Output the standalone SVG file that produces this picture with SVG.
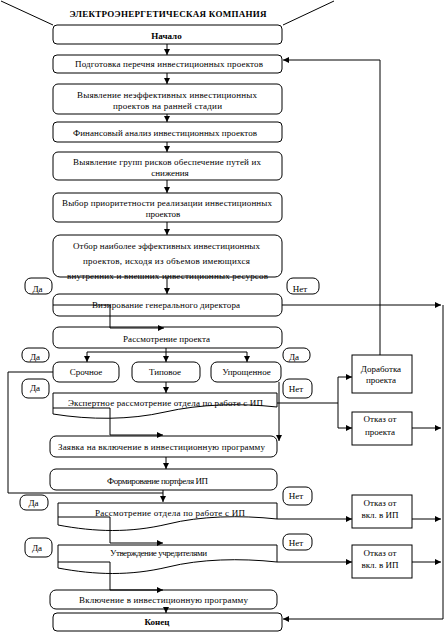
<svg xmlns="http://www.w3.org/2000/svg" width="446" height="639" viewBox="0 0 446 639">
<defs>
<marker id="ar" markerUnits="userSpaceOnUse" markerWidth="7" markerHeight="6" refX="6" refY="3" orient="auto">
<path d="M0,0 L6,3 L0,6 Z" fill="#000"/>
</marker>
<style>
.b{fill:#fff;stroke:#000;stroke-width:1}
.t{font-family:"Liberation Serif","Times New Roman",serif;font-size:9px;text-anchor:middle;fill:#000}
.bd{font-weight:bold}
.c{fill:none;stroke:#000;stroke-width:1}
.a{fill:none;stroke:#000;stroke-width:1;marker-end:url(#ar)}
</style>
</defs>
<rect width="446" height="639" fill="#fff"/>

<g id="title">
<path class="c" d="M1,1 L53,25 M334,1 L283,25"/>
<text class="t bd" x="168" y="17" textLength="197">ЭЛЕКТРОЭНЕРГЕТИЧЕСКАЯ КОМПАНИЯ</text>
</g>

<g id="n-start"><rect class="b" x="53" y="25" width="229" height="19" rx="4"/><text class="t bd" x="166.5" y="39">Начало</text></g>
<g id="n-prep"><rect class="b" x="53" y="55" width="229" height="18" rx="4"/><text class="t" x="169" y="67" textLength="188">Подготовка перечня инвестиционных проектов</text></g>
<g id="n-ineff"><rect class="b" x="53" y="84" width="229" height="30" rx="5"/><text class="t" x="167" y="98" textLength="180">Выявление неэффективных инвестиционных</text><text class="t" x="167.5" y="109" textLength="109">проектов на ранней стадии</text></g>
<g id="n-fin"><rect class="b" x="53" y="122" width="229" height="20" rx="4"/><text class="t" x="165" y="135.5" textLength="184">Финансовый анализ инвестиционных проектов</text></g>
<g id="n-risk"><rect class="b" x="53" y="152" width="229" height="28" rx="5"/><text class="t" x="167" y="165" textLength="188">Выявление групп рисков обеспечение путей их</text><text class="t" x="170" y="176">снижения</text></g>
<g id="n-prio"><rect class="b" x="53" y="193" width="229" height="29" rx="5"/><text class="t" x="167" y="206" textLength="210">Выбор приоритетности реализации инвестиционных</text><text class="t" x="163" y="216.5">проектов</text></g>
<g id="n-select"><rect class="b" x="53" y="235" width="229" height="42" rx="7"/><text class="t" x="166.5" y="249" textLength="187">Отбор наиболее эффективных инвестиционных</text><text class="t" x="166.5" y="264" textLength="167">проектов, исходя из объемов имеющихся</text><text class="t" x="167.5" y="279" textLength="201">внутренних и внешних инвестиционных ресурсов</text></g>
<g id="n-visa"><rect class="b" x="53" y="294" width="229" height="22" rx="6"/><text class="t" x="166" y="308" textLength="148">Визирование генерального директора</text></g>
<g id="n-review"><rect class="b" x="53" y="327" width="229" height="21" rx="6"/><text class="t" x="166.5" y="342" textLength="87">Рассмотрение проекта</text></g>
<g id="n-urgent"><rect class="b" x="53" y="362" width="66" height="20" rx="6"/><text class="t" x="86" y="375">Срочное</text></g>
<g id="n-typical"><rect class="b" x="132" y="362" width="68" height="20" rx="6"/><text class="t" x="165" y="375">Типовое</text></g>
<g id="n-simple"><rect class="b" x="211" y="362" width="70" height="20" rx="6"/><text class="t" x="246.5" y="375">Упрощенное</text></g>
<g id="n-expert"><path class="b" d="M53,393 H277 V407 C240,403 200,404 165,412 C130,420 90,420 53,414 Z"/><text class="t" x="165.5" y="406" textLength="195">Экспертное рассмотрение отдела по работе с ИП</text></g>
<g id="n-apply"><rect class="b" x="50" y="436" width="227" height="21" rx="6"/><text class="t" x="161.5" y="450" textLength="207">Заявка на включение в инвестиционную программу</text></g>
<g id="n-portf"><rect class="b" x="50" y="469" width="227" height="21" rx="6"/><text class="t" x="157.5" y="484" textLength="101">Формирование портфеля ИП</text></g>
<g id="n-dept"><path class="b" d="M58,503 H277 V519 C240,515 200,516 168,524 C130,533 95,532 58,525 Z"/><text class="t" x="170" y="516" textLength="150">Рассмотрение отдела по работе с ИП</text></g>
<g id="n-found"><path class="b" d="M58,545 H277 V562 C240,558 200,559 168,567 C130,576 95,575 58,568 Z"/><text class="t" x="158.5" y="556" textLength="97">Утверждение учредителями</text></g>
<g id="n-incl"><rect class="b" x="50" y="590" width="227" height="19" rx="6"/><text class="t" x="163.5" y="603" textLength="169">Включение в инвестиционную программу</text></g>
<g id="n-end"><rect class="b" x="53" y="613" width="229" height="18" rx="4"/><text class="t bd" x="157" y="625">Конец</text></g>

<g id="n-rework"><rect class="b" x="352" y="355" width="60" height="38"/><text class="t" x="381" y="372">Доработка</text><text class="t" x="381" y="383">проекта</text></g>
<g id="n-reject"><rect class="b" x="352" y="412" width="60" height="33"/><text class="t" x="380" y="422">Отказ от</text><text class="t" x="380" y="435">проекта</text></g>
<g id="n-rej2"><rect class="b" x="352" y="495" width="60" height="33"/><text class="t" x="380" y="506">Отказ от</text><text class="t" x="380" y="518">вкл. в ИП</text></g>
<g id="n-rej3"><rect class="b" x="352" y="545" width="60" height="33"/><text class="t" x="380" y="556">Отказ от</text><text class="t" x="380" y="568">вкл. в ИП</text></g>

<g id="labels">
<rect class="b" x="25" y="278" width="27" height="16" rx="6"/><text class="t" x="37.5" y="292">Да</text>
<rect class="b" x="287" y="278" width="32" height="16" rx="6"/><text class="t" x="300" y="292">Нет</text>
<rect class="b" x="22" y="348" width="27" height="14" rx="6"/><text class="t" x="35" y="360">Да</text>
<rect class="b" x="283" y="348" width="27" height="14" rx="6"/><text class="t" x="294" y="360">Да</text>
<rect class="b" x="22" y="379" width="27" height="19" rx="6"/><text class="t" x="35" y="391">Да</text>
<rect class="b" x="283" y="379" width="29" height="19" rx="6"/><text class="t" x="296" y="392">Нет</text>
<rect class="b" x="20" y="495" width="28" height="15" rx="6"/><text class="t" x="33.5" y="506">Да</text>
<rect class="b" x="283" y="487" width="29" height="18" rx="6"/><text class="t" x="296" y="499">Нет</text>
<rect class="b" x="25" y="538" width="27" height="19" rx="6"/><text class="t" x="37" y="551">Да</text>
<rect class="b" x="283" y="534" width="29" height="16" rx="6"/><text class="t" x="296" y="546">Нет</text>
</g>

<g id="connectors">
<path class="a" d="M167,44 V55"/>
<path class="a" d="M167,73 V84"/>
<path class="a" d="M167,114 V122"/>
<path class="a" d="M167,142 V152"/>
<path class="a" d="M167,180 V193"/>
<path class="a" d="M167,222 V235"/>
<path class="a" d="M167,277 V294"/>
<path class="a" d="M53,305 H110 V328 H164"/>
<path class="a" d="M282,305 H441"/>
<path class="c" d="M166,348 V352 M87,352 H247"/>
<path class="a" d="M87,352 V362"/>
<path class="a" d="M166,352 V362"/>
<path class="a" d="M247,352 V362"/>
<path class="a" d="M53,372 H8 V493 H163 V502"/>
<path class="c" d="M163,490 V493"/>
<path class="a" d="M166,382 V393"/>
<path class="a" d="M279,382 V441"/>
<path class="a" d="M53,408 H110 V435 H163"/>
<path class="c" d="M277,403 H338 M338,377 V428"/>
<path class="a" d="M338,377 H352"/>
<path class="a" d="M338,428 H352"/>
<path class="a" d="M380,355 V60 H283"/>
<path class="a" d="M412,428 H441"/>
<path class="a" d="M166,457 V469"/>
<path class="a" d="M58,517 H110 V543 H163"/>
<path class="a" d="M277,519 H352"/>
<path class="a" d="M412,519 H441"/>
<path class="a" d="M58,562 H110 V590 H163"/>
<path class="a" d="M277,562 H352"/>
<path class="a" d="M412,562 H441"/>
<path class="a" d="M166,609 V613"/>
<path class="a" d="M443,305 V619 H283"/>
</g>
</svg>
